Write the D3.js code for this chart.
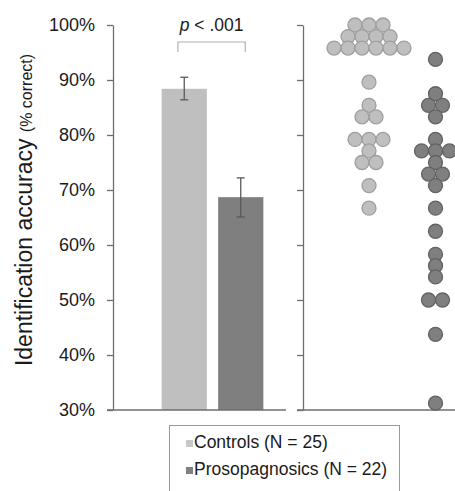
<!DOCTYPE html>
<html>
<head>
<meta charset="utf-8">
<script src="https://cdn.jsdelivr.net/npm/d3@7"></script>
<style>
  body { margin: 0; background: #fff; }
  svg { display: block; font-family: 'Liberation Sans', Arial, sans-serif; }
</style>
</head>
<body>
<script>
// group labels and means (bars), error bar limits
const groups = ['Controls (N = 25)', 'Prosopagnosics (N = 22)'];
const means = [88.4, 68.7];
const errLow = [86.4, 65.1];
const errHigh = [90.5, 72.2];
const yTicks = [30, 40, 50, 60, 70, 80, 90, 100];

// individual scores (% correct)
const controlScores = [100, 100, 100, 97.9, 97.9, 97.9, 97.9, 95.8, 95.8, 95.8, 95.8, 95.8, 95.8,
  89.6, 85.4, 83.3, 83.3, 79.2, 79.2, 79.2, 77.1, 75, 75, 70.8, 66.7];
const prosoScores = [93.75, 87.5, 85.4, 85.4, 83.3, 79.2, 77.1, 77.1, 77.1, 75, 72.9, 72.9, 70.8,
  66.7, 62.5, 58.3, 56.25, 54.2, 50, 50, 43.75, 31.25];

const fills = ['#bfbfbf', '#7f7f7f'];
const strokes = ['#9e9e9e', '#626262'];

const width = 455;
const height = 491;

const svg = d3.select('body').append('svg')
  .attr('width', width)
  .attr('height', height);

const y = d3.scaleLinear().domain([30, 100]).range([410, 25]);

// ---- left panel: bars ----
const leftX = 113;
const x = d3.scaleBand()
  .domain(groups)
  .range([156, 269])
  .paddingInner(0.2)
  .paddingOuter(0.1);

svg.selectAll('rect.bar')
  .data(groups)
  .enter().append('rect')
  .attr('class', 'bar')
  .attr('x', (d) => x(d))
  .attr('width', x.bandwidth())
  .attr('y', (d, i) => y(means[i]))
  .attr('height', (d, i) => y(30) - y(means[i]))
  .attr('fill', (d, i) => fills[i]);

// error bars
const err = svg.append('g').attr('stroke', '#595959').attr('stroke-width', 1.3);
groups.forEach((g, i) => {
  const cx = x(g) + x.bandwidth() / 2;
  err.append('line').attr('x1', cx).attr('x2', cx).attr('y1', y(errLow[i])).attr('y2', y(errHigh[i]));
  err.append('line').attr('x1', cx - 4).attr('x2', cx + 4).attr('y1', y(errLow[i])).attr('y2', y(errLow[i]));
  err.append('line').attr('x1', cx - 4).attr('x2', cx + 4).attr('y1', y(errHigh[i])).attr('y2', y(errHigh[i]));
});

// left y axis
const yAxis = d3.axisLeft(y)
  .tickValues(yTicks)
  .tickSize(6)
  .tickSizeOuter(0)
  .tickPadding(12)
  .tickFormat((d) => d + '%');

const gy = svg.append('g')
  .attr('transform', 'translate(' + leftX + ',0)')
  .call(yAxis);
gy.select('.domain').attr('stroke', '#6e6e6e').attr('stroke-width', 1.3);
gy.selectAll('.tick line').attr('stroke', '#6e6e6e').attr('stroke-width', 1.3);
gy.selectAll('.tick text')
  .attr('font-size', 18)
  .attr('font-family', "'Liberation Sans', Arial, sans-serif")
  .attr('fill', '#1a1a1a');

svg.append('line')
  .attr('x1', leftX - 6).attr('x2', 286)
  .attr('y1', y(30)).attr('y2', y(30))
  .attr('stroke', '#6e6e6e').attr('stroke-width', 1.3);

// significance bracket
const bx1 = x(groups[0]) + x.bandwidth() * 0.36;
const bx2 = x(groups[1]) + x.bandwidth() * 0.6;
svg.append('path')
  .attr('d', `M${bx1},52V42H${bx2}V52`)
  .attr('fill', 'none')
  .attr('stroke', '#b0b0b0')
  .attr('stroke-width', 1.2);

const pText = svg.append('text')
  .attr('x', (bx1 + bx2) / 2)
  .attr('y', 31)
  .attr('text-anchor', 'middle')
  .attr('font-size', 17.5)
  .attr('fill', '#1a1a1a');
pText.append('tspan').attr('font-style', 'italic').text('p');
pText.append('tspan').text(' < .001');

// y axis title
const title = svg.append('text')
  .attr('transform', 'translate(32,' + 210 + ') rotate(-90)')
  .attr('text-anchor', 'middle')
  .attr('fill', '#1a1a1a');
title.append('tspan').attr('font-size', 23).text('Identification accuracy ');
title.append('tspan').attr('font-size', 16).text('(% correct)');

// ---- right panel: individual scores ----
const rightX = 303;
const xs = d3.scalePoint()
  .domain(groups)
  .range([369, 435.5]);

const gyr = svg.append('g')
  .attr('transform', 'translate(' + rightX + ',0)')
  .call(d3.axisLeft(y).tickValues(yTicks).tickSize(6).tickSizeOuter(0).tickFormat(''));
gyr.select('.domain').attr('stroke', '#6e6e6e').attr('stroke-width', 1.3);
gyr.selectAll('.tick line').attr('stroke', '#6e6e6e').attr('stroke-width', 1.3);

svg.append('line')
  .attr('x1', rightX - 6).attr('x2', width)
  .attr('y1', y(30)).attr('y2', y(30))
  .attr('stroke', '#6e6e6e').attr('stroke-width', 1.3);

// place equal scores side by side, centred on the column
function swarm (scores, gi) {
  const counts = d3.rollup(scores, (v) => v.length, (d) => d);
  const seen = new Map();
  return scores.map((s) => {
    const n = counts.get(s);
    const k = seen.get(s) || 0;
    seen.set(s, k + 1);
    return { value: s, group: gi, dx: (k - (n - 1) / 2) * 14 };
  });
}

const dots = swarm(controlScores, 0).concat(swarm(prosoScores, 1));

svg.append('g').selectAll('circle')
  .data(dots)
  .enter().append('circle')
  .attr('cx', (d) => xs(groups[d.group]) + d.dx)
  .attr('cy', (d) => y(d.value))
  .attr('r', 7)
  .attr('fill', (d) => fills[d.group])
  .attr('stroke', (d) => strokes[d.group])
  .attr('stroke-width', 1.3);

// ---- legend ----
const legend = svg.append('g');
legend.append('rect')
  .attr('x', 169.5).attr('y', 425.5)
  .attr('width', 230).attr('height', 80)
  .attr('fill', '#fff')
  .attr('stroke', '#9a9a9a')
  .attr('stroke-width', 1);

groups.forEach((g, i) => {
  const ly = 448 + i * 27;
  legend.append('rect')
    .attr('x', 186).attr('y', ly - 8)
    .attr('width', 7).attr('height', 7)
    .attr('fill', i === 0 ? '#c8c8c8' : '#808080');
  legend.append('text')
    .attr('x', 194).attr('y', ly)
    .attr('font-size', 17.5)
    .attr('fill', '#1a1a1a')
    .text(g);
});
</script>
</body>
</html>
